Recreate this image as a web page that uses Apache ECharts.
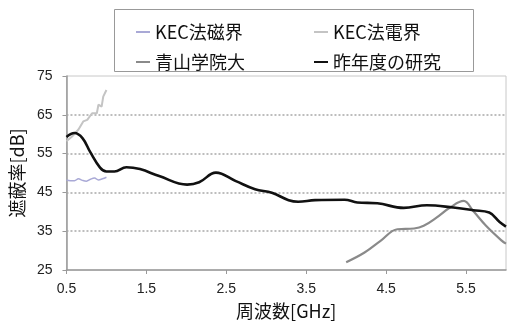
<!DOCTYPE html>
<html>
<head>
<meta charset="utf-8">
<script src="https://cdn.jsdelivr.net/npm/echarts@6/dist/echarts.min.js"></script>
<style>
  html, body { margin: 0; padding: 0; background: #fff; }
  #chart { width: 507px; height: 325px; }
</style>
</head>
<body>
<div id="chart"></div>
<script>
// Series names (legend order)
var seriesNames = ['KEC法磁界', 'KEC法電界', '青山学院大', '昨年度の研究'];

// KEC法磁界 (magnetic field)
var kecMagFreq = [0.5, 0.55, 0.6, 0.65, 0.7, 0.75, 0.8, 0.85, 0.9, 0.95, 1.0];
var kecMagDb   = [48.2, 48.0, 48.0, 48.5, 48.1, 47.9, 48.4, 48.7, 48.2, 48.5, 48.9];

// KEC法電界 (electric field)
var kecEleFreq = [0.5, 0.57, 0.65, 0.71, 0.76, 0.78, 0.82, 0.88, 0.90, 0.94, 0.96, 1.0];
var kecEleDb   = [58.2, 59.4, 61.2, 63.3, 63.7, 64.2, 65.4, 65.4, 67.6, 67.1, 69.7, 71.4];

// 青山学院大
var aoyamaFreq = [4.0, 4.23, 4.43, 4.64, 4.85, 4.97, 5.13, 5.30, 5.47, 5.59, 5.75, 5.95, 6.0];
var aoyamaDb   = [27.0, 29.5, 32.5, 35.5, 35.7, 36.4, 38.5, 41.1, 42.8, 40.2, 36.4, 32.5, 31.8];

// 昨年度の研究 (previous year's study)
var prevFreq = [0.5, 0.6, 0.7, 0.8, 0.92, 1.0, 1.1, 1.25, 1.42, 1.66, 2.01, 2.16, 2.37, 2.62, 2.86, 3.07, 3.28, 3.40, 3.61, 3.98, 4.14, 4.39, 4.72, 5.01, 5.34, 5.59, 5.79, 5.92, 6.0];
var prevDb   = [59.3, 60.3, 59.0, 55.3, 51.4, 50.4, 50.4, 51.5, 51.0, 49.2, 47.0, 47.6, 50.1, 47.9, 45.8, 44.9, 43.0, 42.6, 43.0, 43.1, 42.4, 42.2, 41.0, 41.7, 41.1, 40.4, 39.8, 37.4, 36.2];

// Tick labels and dotted reference levels
var xTicks = [0.5, 1.5, 2.5, 3.5, 4.5, 5.5];
var yTicks = [25, 35, 45, 55, 65, 75];
var gridLevels = [35, 45, 55, 65];

function pairs(xs, ys) {
  return xs.map(function (x, i) { return [x, ys[i]]; });
}

var numFont = "'Liberation Sans', Arial, sans-serif";
var cjkFont = "'Noto Sans CJK JP', 'Liberation Sans', sans-serif";

var chart = echarts.init(document.getElementById('chart'), null, { renderer: 'canvas' });

chart.setOption({
  animation: false,
  backgroundColor: '#ffffff',
  grid: {
    left: 66, top: 76, right: 1, bottom: 54,
    show: true, borderColor: '#c8c8c8', borderWidth: 1
  },
  legend: [
    {
      data: [seriesNames[0], seriesNames[2]],
      orient: 'vertical', left: 131, top: 15,
      icon: 'rect', itemWidth: 14, itemHeight: 2, itemGap: 6,
      textStyle: { fontFamily: cjkFont, fontSize: 18, color: '#111', lineHeight: 24 }
    },
    {
      data: [seriesNames[1], seriesNames[3]],
      orient: 'vertical', left: 309, top: 15,
      icon: 'rect', itemWidth: 14, itemHeight: 2, itemGap: 6,
      textStyle: { fontFamily: cjkFont, fontSize: 18, color: '#111', lineHeight: 24 }
    }
  ],
  graphic: [{
    type: 'rect',
    shape: { x: 114.5, y: 9.5, width: 359, height: 62 },
    style: { fill: 'none', stroke: '#999', lineWidth: 1 },
    z: 10
  }],
  xAxis: {
    type: 'value', min: 0.5, max: 6.0, interval: 0.5,
    name: '周波数[GHz]', nameLocation: 'middle', nameGap: 32,
    nameTextStyle: { fontFamily: cjkFont, fontSize: 18, color: '#111' },
    axisLine: { show: true, lineStyle: { color: '#999', width: 1.5 } },
    axisTick: { show: true, length: 4, customValues: xTicks, lineStyle: { color: '#999' } },
    axisLabel: {
      customValues: xTicks, margin: 12,
      fontFamily: numFont, fontSize: 14, color: '#222',
      formatter: function (v) { return v.toFixed(1); }
    },
    splitLine: { show: false }
  },
  yAxis: {
    type: 'value', min: 25, max: 75, interval: 5,
    name: '遮蔽率[dB]', nameLocation: 'middle', nameGap: 38,
    nameTextStyle: { fontFamily: cjkFont, fontSize: 18, color: '#111' },
    axisLine: { show: true, lineStyle: { color: '#999', width: 1.5 } },
    axisTick: { show: true, length: 4, customValues: yTicks, lineStyle: { color: '#999' } },
    axisLabel: {
      customValues: yTicks, margin: 14,
      fontFamily: numFont, fontSize: 14, color: '#222'
    },
    splitLine: { show: false }
  },
  series: [
    {
      name: seriesNames[0], type: 'line', data: pairs(kecMagFreq, kecMagDb),
      smooth: 0.4, symbol: 'none', z: 3,
      lineStyle: { color: '#a9a9d6', width: 1.5 }, itemStyle: { color: '#a9a9d6' },
      // dotted horizontal reference levels
      markLine: {
        silent: true, symbol: 'none', label: { show: false },
        lineStyle: { color: '#a8a8a8', type: [2, 2], width: 1.5 },
        data: gridLevels.map(function (v) { return { yAxis: v }; }),
        z: 1
      }
    },
    {
      name: seriesNames[1], type: 'line', data: pairs(kecEleFreq, kecEleDb),
      smooth: false, symbol: 'none', z: 3,
      lineStyle: { color: '#c4c4c4', width: 2 }, itemStyle: { color: '#c4c4c4' }
    },
    {
      name: seriesNames[2], type: 'line', data: pairs(aoyamaFreq, aoyamaDb),
      smooth: 0.4, symbol: 'none', z: 3,
      lineStyle: { color: '#8a8a8a', width: 2.2 }, itemStyle: { color: '#8a8a8a' }
    },
    {
      name: seriesNames[3], type: 'line', data: pairs(prevFreq, prevDb),
      smooth: 0.4, symbol: 'none', z: 4,
      lineStyle: { color: '#111', width: 2.6 }, itemStyle: { color: '#111' }
    }
  ]
});
</script>
</body>
</html>
